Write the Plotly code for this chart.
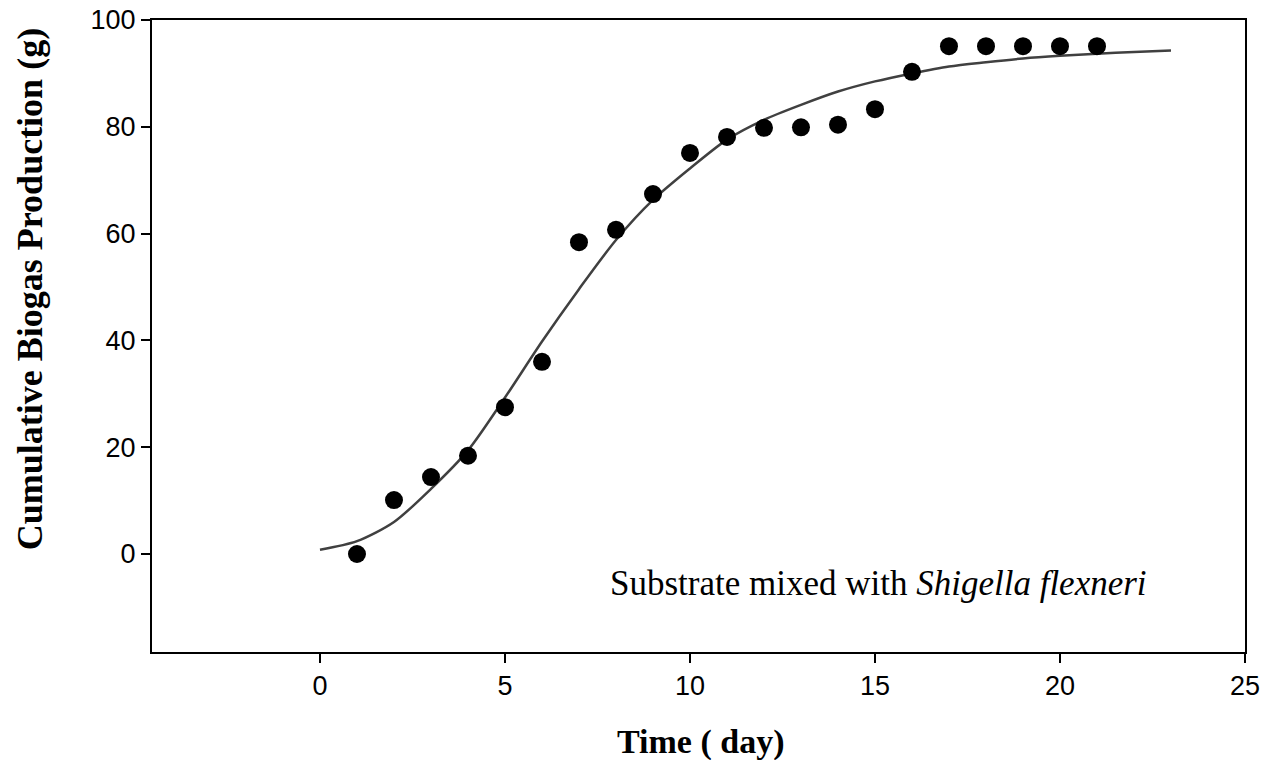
import plotly.graph_objects as go

# Observed data
obs_day = [1, 2, 3, 4, 5, 6, 7, 8, 9, 10, 11, 12, 13, 14, 15, 16, 17, 18, 19, 20, 21]
obs_biogas = [0.0, 10.1, 14.4, 18.4, 27.5, 36.0, 58.4, 60.7, 67.4, 75.1, 78.1,
              79.8, 79.9, 80.4, 83.3, 90.3, 95.1, 95.1, 95.1, 95.1, 95.1]

# Fitted curve
fit_day = [0, 1, 2, 3, 4, 5, 6, 7, 8, 9, 10, 11, 12, 13, 14, 15, 16, 17, 18, 19, 20, 21, 22, 23]
fit_biogas = [0.8, 2.4, 6.0, 12.2, 19.4, 29.3, 39.8, 49.6, 58.8, 66.3, 72.2, 77.6,
              81.3, 84.1, 86.6, 88.5, 90.0, 91.3, 92.1, 92.8, 93.3, 93.7, 94.0, 94.3]

x_ticks = [0, 5, 10, 15, 20, 25]
y_ticks = [0, 20, 40, 60, 80, 100]

fig = go.Figure()
fig.add_trace(go.Scatter(
    x=fit_day, y=fit_biogas, mode="lines",
    line=dict(color="#404040", width=2.5, shape="spline", smoothing=0.8),
    showlegend=False, hoverinfo="skip"))
fig.add_trace(go.Scatter(
    x=obs_day, y=obs_biogas, mode="markers",
    marker=dict(color="black", size=18, symbol="circle"),
    showlegend=False))

fig.add_annotation(
    x=15.1, y=-5.5, xref="x", yref="y",
    text="Substrate mixed with <i>Shigella flexneri</i>",
    showarrow=False, xanchor="center", yanchor="middle",
    font=dict(family="Liberation Serif", size=35, color="black"))

# Axis titles
fig.add_annotation(
    x=0.502, y=0, xref="paper", yref="paper", yshift=-90,
    text="<b>Time ( day)</b>", showarrow=False,
    xanchor="center", yanchor="middle",
    font=dict(family="Liberation Serif", size=34, color="black"))
fig.add_annotation(
    x=0, y=0.574, xref="paper", yref="paper", xshift=-122,
    text="<b>Cumulative Biogas Production (g)</b>", showarrow=False,
    textangle=-90, xanchor="center", yanchor="middle",
    font=dict(family="Liberation Serif", size=36, color="black"))

fig.update_layout(
    width=1268, height=760,
    margin=dict(l=152, r=23, t=20, b=108),
    paper_bgcolor="white", plot_bgcolor="white",
    xaxis=dict(
        range=[-4.54, 25], tickvals=x_ticks, ticks="outside", ticklen=9,
        tickwidth=1.5, tickcolor="black", showgrid=False, zeroline=False,
        showline=True, linecolor="black", linewidth=2, mirror=True,
        automargin=False,
        tickfont=dict(family="Liberation Sans", size=27, color="black")),
    yaxis=dict(
        range=[-18.35, 100], tickvals=y_ticks, ticks="outside", ticklen=9,
        tickwidth=1.5, tickcolor="black", showgrid=False, zeroline=False,
        showline=True, linecolor="black", linewidth=2, mirror=True,
        automargin=False,
        tickfont=dict(family="Liberation Sans", size=27, color="black")),
)

fig.write_html("out.html", config={"displayModeBar": False},
               post_script="document.body.style.margin='0';")
